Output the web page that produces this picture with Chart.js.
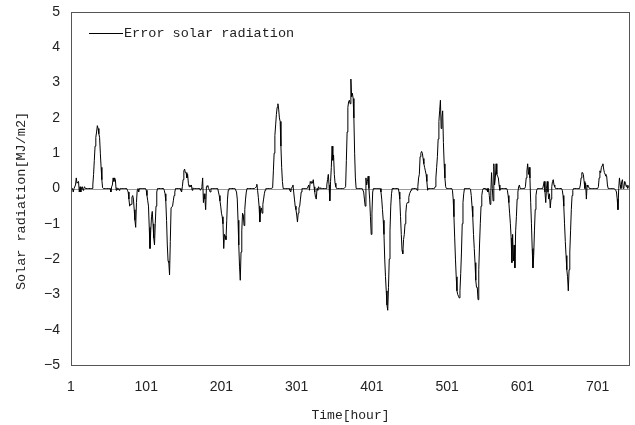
<!DOCTYPE html>
<html>
<head>
<meta charset="utf-8">
<script src="https://cdn.jsdelivr.net/npm/chart.js@4/dist/chart.umd.min.js"></script>
<style>
html,body{margin:0;padding:0;background:#fff;}
#wrap{width:635px;height:425px;}
</style>
</head>
<body>
<div id="wrap"><canvas id="c" width="635" height="425"></canvas></div>
<script>
// ---- text ----
const seriesName = 'Error solar radiation';
const xAxisTitle = 'Time[hour]';
const yAxisTitle = 'Solar radiation[MJ/m2]';

// ---- ticks ----
const xTickValues = [1, 101, 201, 301, 401, 501, 601, 701];
const yTickValues = [-5, -4, -3, -2, -1, 0, 1, 2, 3, 4, 5];

// ---- hourly error values (MJ/m2), one array per day, hours 0..23 ----
const day01 = [0,0,0,-0.1,0,0,0.1,0.3,0.15,0.15,0.2,-0.1,0.05,-0.1,0.02,0.05,-0.05,0,0.05,0,0,0,0,0];
const day02 = [0,0,0,0,0,0.1,0.4,0.8,1.2,1.45,1.6,1.78,1.7,1.55,1.45,1.0,0.6,0.25,0.02,0,0,0,0,0];
const day03 = [0,0,0,0,0,-0.1,0.05,0.1,0.3,0.2,0.3,0.25,-0.05,0.02,-0.03,0,-0.05,0,0,0,0,0,0,0];
const day04 = [0,0,0,-0.05,-0.1,-0.3,-0.5,-0.45,-0.45,-0.25,-0.2,-0.3,-0.6,-0.9,-1.1,-0.4,-0.05,0,-0.1,0,0,0,0,0];
const day05 = [0,0,0,0,-0.05,-0.2,-0.35,-0.5,-1.1,-1.7,-1.2,-0.8,-0.65,-1.0,-1.4,-1.6,-1.0,-0.5,-0.1,0,0,0,0,0];
const day06 = [0,0,0,0,-0.05,-0.15,-0.35,-0.9,-1.6,-2.05,-2.1,-2.45,-1.5,-0.55,-0.55,-0.5,-0.35,-0.2,-0.1,0,0,0,0,0];
const day07 = [0,0,-0.05,-0.1,0.05,0.25,0.5,0.55,0.45,0.45,0.3,0.4,0.15,0.05,0.1,0.05,0.1,-0.05,0.02,0,0,0,0,0];
const day08 = [0,0,0,0,-0.05,0,0.05,0.3,-0.4,-0.15,-0.3,-0.6,0.05,0.08,0.05,0,-0.05,-0.1,0,0,0,0,0,0];
const day09 = [0,0,0,0,-0.1,-0.2,-0.35,-0.5,-0.7,-0.8,-1.0,-1.7,-1.3,-1.35,-1.45,-0.9,-0.3,-0.05,0,0,0,0,0,0];
const day10 = [0,0,0,0,-0.1,-0.3,-0.9,-1.6,-2.2,-2.6,-1.8,-1.2,-0.7,-0.75,-1.05,-0.6,-0.3,-0.1,0,0,0,0,0,0];
const day11 = [0,0,0,0,0,0.02,0.05,0.12,-0.05,-0.25,-0.5,-0.95,-0.6,-0.55,-0.7,-0.45,-0.3,-0.15,-0.05,0,0,0,0,0];
const day12 = [0,0,0,0,0.02,0.5,1.0,1.5,1.8,2.1,2.3,2.4,2.25,2.0,1.9,1.2,0.6,0.2,0,0,0,0,0,0];
const day13 = [0,0,0,-0.05,-0.1,0,0.05,0.1,-0.1,-0.3,-0.5,-0.6,-0.75,-0.95,-0.7,-0.55,-0.5,-0.3,-0.1,0,0,0,0,0];
const day14 = [0,0,0,0,0.1,-0.05,0.2,0.15,0.2,0.15,0.25,0.05,-0.1,-0.25,-0.3,0,-0.05,0.05,0,0.02,0,0,0,0];
const day15 = [0,0,0,0,0.1,0.25,0.4,0.1,-0.35,0.2,0.6,1.2,0.8,0.95,0.4,0.15,0.05,0,0,0,0,0,0,0];
const day16 = [0,0,0,0,0,0.05,0.8,1.6,2.3,2.45,2.5,2.4,3.1,2.6,2.7,2.55,2.0,1.0,0.3,0,0,0,0,0];
const day17 = [0,0,0,0,0,-0.1,-0.3,-0.5,0.3,0.1,0.2,0.35,0,-0.3,-0.8,-1.3,-0.7,-0.1,0,0,0,0,0,0];
const day18 = [0,0,0,0,-0.1,-0.3,-0.6,-0.9,-1.3,-2.0,-2.5,-2.9,-3.3,-3.45,-2.8,-2.0,-1.2,-0.5,-0.15,0,0,0,0,0];
const day19 = [0,0,0,0,-0.1,-0.3,-0.8,-1.3,-1.75,-1.85,-1.45,-1.3,-1.0,-0.7,-0.45,-0.4,-0.4,-0.25,-0.15,-0.1,-0.05,0,0,0];
const day20 = [0,0,0,0,-0.05,0.05,0.3,0.4,0.9,1.0,1.05,1.0,0.85,0.7,0.6,0.5,0.4,0.2,-0.05,0,0,0,0,0];
const day21 = [0,0,0,0,0.05,0.3,0.6,0.9,1.4,1.9,2.2,2.5,1.7,2.0,2.2,1.3,0.7,0.3,0.05,0,0,0,0,0];
const day22 = [0,0,0,-0.05,-0.3,-0.8,-1.4,-2.0,-2.5,-2.9,-3.0,-3.05,-3.1,-2.9,-2.4,-1.8,-1.0,-0.4,-0.15,0,0,0,0,0];
const day23 = [0,0,0,-0.02,-0.2,-0.5,-0.8,-1.3,-1.7,-2.1,-2.6,-2.8,-2.8,-3.15,-2.3,-1.6,-1.0,-0.5,-0.2,-0.05,0,0,0,0];
const day24 = [-0.05,0,-0.1,0,-0.2,-0.45,-0.1,0.45,0,-0.35,0.7,0.1,0.3,0.7,0.4,0.35,0.3,0.1,-0.05,0,0,0,0,0];
const day25 = [0,0,0,0,-0.05,-0.2,-0.4,-0.7,-1.0,-1.4,-2.1,-1.3,-2.05,-1.6,-2.25,-1.2,-0.8,-0.3,-0.1,0.05,0.1,0,0,0];
const day26 = [0,0,0,0,0.05,0.3,0.5,0.7,0.4,0.6,0.3,-0.4,-1.0,-1.7,-2.25,-1.9,-1.2,-0.6,-0.2,-0.05,0,0,0,0];
const day27 = [0,0,0,0,0.1,0.2,-0.1,-0.4,0,0.2,-0.1,-0.3,-0.15,-0.55,-0.3,0.05,0.2,0.25,0.1,0.05,0,0,0,0];
const day28 = [0,0,0,0,0,-0.05,-0.2,-0.5,-1.0,-1.5,-1.9,-2.3,-2.5,-2.9,-2.3,-1.8,-1.2,-0.6,-0.2,-0.05,0,0,0,0];
const day29 = [0,0,0,0,0,0.1,0.3,0.45,0.45,0.4,0.2,0,0.15,-0.3,0.1,0.05,0.05,0,0,0,0,0,0,0];
const day30 = [0,0,0,0,0,0.05,0.3,0.5,0.45,0.6,0.65,0.7,0.55,0.45,0.4,0.35,0.35,0.1,0,0,0,0,0,0];
const day31 = [0,0,0,0,-0.05,-0.1,-0.3,-0.6,0,0.3,0.1,0,0.2,0.25,0,0.05,0.2,0.15,0.05,0.1,0,0.05,0.1,0.05];

const errorValues = [].concat(day01, day02, day03, day04, day05, day06, day07, day08, day09, day10,
  day11, day12, day13, day14, day15, day16, day17, day18, day19, day20, day21, day22, day23, day24,
  day25, day26, day27, day28, day29, day30, day31);
const hours = errorValues.map((_, i) => i + 1);

const TEXT_COLOR = '#222';
const MONO = '"Liberation Mono", "DejaVu Sans Mono", monospace';
const SANS = '"Liberation Sans", Arial, sans-serif';

const decorPlugin = {
  id: 'decor',
  beforeDatasetsDraw(chart) {
    const ctx = chart.ctx, a = chart.chartArea;
    const y0 = Math.round(chart.scales.y.getPixelForValue(0)) + 0.5;
    ctx.save();
    ctx.strokeStyle = '#9a9a9a';
    ctx.lineWidth = 1;
    ctx.beginPath();
    ctx.moveTo(a.left, y0);
    ctx.lineTo(a.right, y0);
    ctx.stroke();
    ctx.restore();
  },
  afterDatasetsDraw(chart) {
    const ctx = chart.ctx, a = chart.chartArea;
    ctx.save();
    // plot frame
    ctx.strokeStyle = '#555';
    ctx.lineWidth = 1;
    ctx.strokeRect(Math.round(a.left) + 0.5, Math.round(a.top) + 0.5,
      Math.round(a.right - a.left) - 1, Math.round(a.bottom - a.top));
    // legend
    const ly = Math.round(a.top + 21) + 0.5;
    ctx.strokeStyle = '#000';
    ctx.beginPath();
    ctx.moveTo(a.left + 18, ly);
    ctx.lineTo(a.left + 52, ly);
    ctx.stroke();
    ctx.fillStyle = TEXT_COLOR;
    ctx.font = '13.5px ' + MONO;
    ctx.textBaseline = 'middle';
    ctx.textAlign = 'left';
    ctx.fillText(seriesName, a.left + 53, ly);
    // x title
    ctx.font = '13px ' + MONO;
    ctx.textAlign = 'center';
    ctx.fillText(xAxisTitle, (a.left + a.right) / 2, 416);
    // y title
    ctx.translate(21, 201);
    ctx.rotate(-Math.PI / 2);
    ctx.font = '13.5px ' + MONO;
    ctx.fillText(yAxisTitle, 0, 0);
    ctx.restore();
  }
};

new Chart(document.getElementById('c'), {
  type: 'line',
  data: {
    labels: hours,
    datasets: [{
      label: seriesName,
      data: errorValues.map((v, i) => ({ x: hours[i], y: v })),
      borderColor: '#000',
      borderWidth: 1,
      pointRadius: 0,
      tension: 0,
      fill: false
    }]
  },
  options: {
    responsive: false,
    animation: false,
    devicePixelRatio: 1,
    layout: { padding: { left: 0, top: 12, right: 5, bottom: 0 } },
    plugins: { legend: { display: false }, tooltip: { enabled: false } },
    scales: {
      x: {
        type: 'linear',
        min: 1,
        max: hours.length,
        afterBuildTicks: s => { s.ticks = xTickValues.map(v => ({ value: v })); },
        afterFit: s => { s.height = 60; s.paddingLeft = 0; s.paddingRight = 0; },
        grid: { display: false, drawTicks: false },
        border: { display: false },
        ticks: {
          autoSkip: false, maxRotation: 0, padding: 14,
          color: TEXT_COLOR,
          font: { family: SANS, size: 14 },
          callback: v => String(v)
        }
      },
      y: {
        min: -5,
        max: 5,
        afterBuildTicks: s => { s.ticks = yTickValues.map(v => ({ value: v })); },
        afterFit: s => { s.width = 71; s.paddingTop = 0; s.paddingBottom = 0; },
        grid: { display: false, drawTicks: false },
        border: { display: false },
        ticks: {
          padding: 11,
          color: TEXT_COLOR,
          font: { family: SANS, size: 14 },
          callback: v => (v < 0 ? '\u2212' + Math.abs(v) : String(v))
        }
      }
    }
  },
  plugins: [decorPlugin]
});
</script>
</body>
</html>
